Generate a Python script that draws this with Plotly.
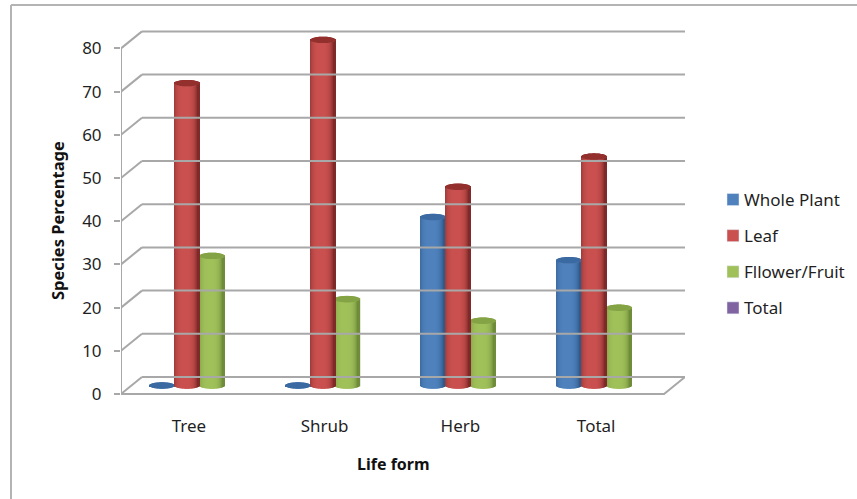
import plotly.graph_objects as go

# Chart data
categories = ["Tree", "Shrub", "Herb", "Total"]
whole_plant = [0, 0, 39, 29]
leaf = [70, 80, 46, 53]
flower_fruit = [30, 20, 15, 18]
total_series = [None, None, None, None]
y_ticks = [0, 10, 20, 30, 40, 50, 60, 70, 80]

# Series styling: legend/body colour, edge shade, top-cap colour
BLUE = ("#4f81bd", "#2f5a8c", "#3b6aa3")
RED = ("#c9504e", "#7f2a28", "#93302e")
GREEN = ("#a0c05a", "#6f8c3a", "#83a344")
PURPLE = "#8064a2"
GREY = "#a8a8a8"
TEXT = "#1f1f1f"
FONT = "Noto Sans"

# Plot area in page pixels
PAGE_W, PAGE_H = 857, 499
PLOT_L, PLOT_R, PLOT_T, PLOT_B = 121, 685, 26, 400
PLOT_W, PLOT_H = PLOT_R - PLOT_L, PLOT_B - PLOT_T

# Pseudo-3D projection, in axis units
PX_PER_CAT = 136.0
PX_PER_VAL = 4.32
ZERO_PX = 385.5
DEPTH_X = 21 / PX_PER_CAT
DEPTH_Y = 8.5 / PX_PER_VAL
BAR_W = 25 / PX_PER_CAT
BAR_SHIFT = -2 / PX_PER_CAT
CAP_H = 3.2 / PX_PER_VAL
STRIPS = 25


def page_x(px):
    return (px - PLOT_L) / PLOT_W


def page_y(py):
    return (PLOT_B - py) / PLOT_H


def hex_rgb(c):
    return tuple(int(c[i:i + 2], 16) for i in (1, 3, 5))


def shade(light, dark, t):
    """Colour across a cylinder; t runs from -1 (left edge) to 1 (right edge)."""
    k = min(1.0, abs(t + 0.12) ** 3.6)
    a, b = hex_rgb(light), hex_rgb(dark)
    return "rgb(%d,%d,%d)" % tuple(round(x + (y - x) * k) for x, y in zip(a, b))


def cylinder_traces(values, slot, colours):
    """One overlay bar trace for the curved sides and one for the elliptical caps."""
    light, dark, cap = colours
    xs, side_y, side_base, cap_y, cap_base, side_col = [], [], [], [], [], []
    for i, v in enumerate(values):
        for s in range(STRIPS):
            t = (s + 0.5) / STRIPS * 2 - 1
            h = CAP_H * (1 - t * t) ** 0.5
            xs.append(i + BAR_SHIFT + slot * BAR_W + t * BAR_W / 2)
            side_y.append(v)
            side_base.append(-h)
            cap_y.append(2 * h)
            cap_base.append(v - h)
            side_col.append(shade(light, dark, t))
    strip_w = BAR_W / STRIPS * 1.25
    common = dict(x=xs, width=strip_w, showlegend=False, hoverinfo="skip",
                  marker_line_width=0)
    return [
        go.Bar(y=side_y, base=side_base, marker_color=side_col, **common),
        go.Bar(y=cap_y, base=cap_base, marker_color=cap, **common),
    ]


def wall_line(xs, ys):
    return go.Scatter(x=xs, y=ys, mode="lines", showlegend=False, hoverinfo="skip",
                      cliponaxis=False, line=dict(color=GREY, width=2))


x_front_l, x_front_r = -0.5, len(categories) - 0.5
x_back_l, x_back_r = x_front_l + DEPTH_X, x_front_r + DEPTH_X

fig = go.Figure()

# Back wall gridlines and the diagonals down to the front value axis
for v in y_ticks:
    fig.add_trace(wall_line([x_back_l, x_back_r], [v + DEPTH_Y, v + DEPTH_Y]))
    fig.add_trace(wall_line([x_front_l, x_back_l], [v - DEPTH_Y, v + DEPTH_Y]))
fig.add_trace(wall_line([x_front_l, x_front_l], [y_ticks[0] - DEPTH_Y, y_ticks[-1] - DEPTH_Y]))
fig.add_trace(wall_line([x_front_l, x_front_r, x_back_r],
                        [-DEPTH_Y, -DEPTH_Y, DEPTH_Y]))

# Cylinders
for trace in cylinder_traces(whole_plant, -1, BLUE):
    fig.add_trace(trace)
for trace in cylinder_traces(flower_fruit, 1, GREEN):
    fig.add_trace(trace)
for trace in cylinder_traces(leaf, 0, RED):
    fig.add_trace(trace)

# Legend entries
legend_items = [("Whole Plant", BLUE[0]), ("Leaf", RED[0]),
                ("Fllower/Fruit", GREEN[0]), ("Total", PURPLE)]
for name, colour in legend_items:
    fig.add_trace(go.Bar(x=list(range(len(categories))), y=total_series, name=name,
                         legendgroup=name, marker_color=colour, hoverinfo="skip"))

frame = dict(type="line", xref="paper", yref="paper", layer="below",
             line=dict(color="#b4b4b4", width=2))

fig.update_layout(
    width=PAGE_W, height=PAGE_H,
    margin=dict(l=PLOT_L, r=PAGE_W - PLOT_R, t=PLOT_T, b=PAGE_H - PLOT_B),
    paper_bgcolor="white", plot_bgcolor="white",
    barmode="overlay",
    font=dict(family=FONT, size=17, color=TEXT),
    legend=dict(xref="container", yref="container",
                x=704 / PAGE_W, xanchor="left", y=1 - 182 / PAGE_H, yanchor="top",
                traceorder="grouped", tracegroupgap=11, bgcolor="rgba(0,0,0,0)",
                font=dict(family=FONT, size=17, color=TEXT)),
    xaxis=dict(range=[x_front_l, x_back_r], tickmode="array",
               tickvals=list(range(len(categories))), ticktext=categories,
               showgrid=False, zeroline=False, showline=False, ticks="",
               ticklabelstandoff=14, tickfont=dict(family=FONT, size=17, color=TEXT)),
    yaxis=dict(range=[(ZERO_PX - PLOT_B) / PX_PER_VAL, (ZERO_PX - PLOT_T) / PX_PER_VAL],
               tickmode="array",
               tickvals=[v - DEPTH_Y for v in y_ticks],
               ticktext=[str(v) for v in y_ticks],
               showgrid=False, zeroline=False, showline=False,
               ticks="outside", ticklen=6, tickwidth=2, tickcolor=GREY,
               ticklabelstandoff=9, tickfont=dict(family=FONT, size=17, color=TEXT)),
    annotations=[
        dict(text="<b>Life form</b>", xref="paper", yref="paper",
             x=page_x(393), y=page_y(464), xanchor="center", yanchor="middle",
             showarrow=False, font=dict(family=FONT, size=16, color="#111111")),
        dict(text="<b>Species Percentage</b>", xref="paper", yref="paper", textangle=-90,
             x=page_x(57), y=page_y(221), xanchor="center", yanchor="middle",
             showarrow=False, font=dict(family=FONT, size=16.5, color="#111111")),
    ],
    shapes=[
        dict(x0=page_x(11), x1=page_x(857), y0=page_y(5), y1=page_y(5), **frame),
        dict(x0=page_x(11), x1=page_x(11), y0=page_y(499), y1=page_y(5), **frame),
    ],
)

# Legend swatches sit close to their labels
nudge = """
document.querySelectorAll('.legend .legendpoints').forEach(function (g) {
  g.setAttribute('transform', 'translate(9,0)');
});
"""
fig.write_html("out.html", post_script=nudge)
